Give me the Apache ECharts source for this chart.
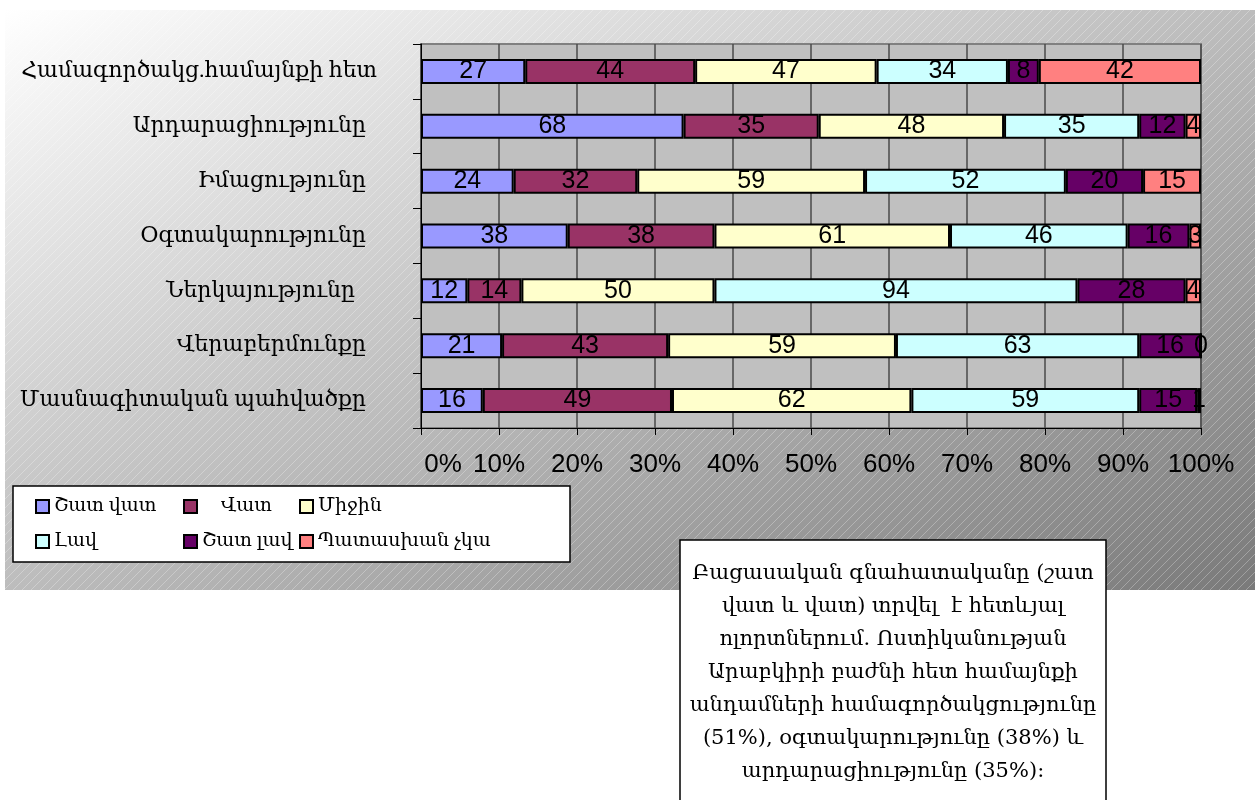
<!DOCTYPE html>
<html>
<head>
<meta charset="utf-8">
<title>Գնահատականներ</title>
<script src="https://cdn.jsdelivr.net/npm/echarts@6/dist/echarts.min.js"></script>
<style>
  html, body { margin: 0; padding: 0; background: #fff; }
  #chart { width: 1255px; height: 800px; }
</style>
</head>
<body>
<div id="chart"></div>
<script>
// categories, top to bottom
const categories = [
  'Համագործակց.համայնքի հետ',
  'Արդարացիությունը  ',
  'Իմացությունը  ',
  'Օգտակարությունը  ',
  'Ներկայությունը    ',
  'Վերաբերմունքը  ',
  'Մասնագիտական պահվածքը  '
];

const seriesNames = ['Շատ վատ', 'Վատ', 'Միջին', 'Լավ', 'Շատ լավ', 'Պատասխան չկա'];

// answer counts per category
const veryBad  = [27, 68, 24, 38, 12, 21, 16];
const bad      = [44, 35, 32, 38, 14, 43, 49];
const average  = [47, 48, 59, 61, 50, 59, 62];
const good     = [34, 35, 52, 46, 94, 63, 59];
const veryGood = [8, 12, 20, 16, 28, 16, 15];
const noAnswer = [42, 4, 15, 3, 4, 0, 1];

const percentTicks = ['0%', '10%', '20%', '30%', '40%', '50%', '60%', '70%', '80%', '90%', '100%'];

const noteLines = [
  'Բացասական գնահատականը (շատ',
  'վատ և վատ) տրվել  է հետևյալ',
  'ոլորտներում. Ոստիկանության',
  'Արաբկիրի բաժնի հետ համայնքի',
  'անդամների համագործակցությունը',
  '(51%), օգտակարությունը (38%) և',
  'արդարացիությունը (35%):'
];

const seriesData = [veryBad, bad, average, good, veryGood, noAnswer];
const colors = ['#9999ff', '#993366', '#ffffcc', '#ccffff', '#660066', '#ff8080'];

const serif = '"Liberation Serif", "DejaVu Serif", serif';
const sans = '"Liberation Sans", Arial, sans-serif';

// row totals for the 100% stack
const totals = categories.map((c, i) => seriesData.reduce((s, arr) => s + arr[i], 0));

// diagonal hatch pattern for the background
const hatch = document.createElement('canvas');
hatch.width = 9;
hatch.height = 9;
const hctx = hatch.getContext('2d');
hctx.strokeStyle = 'rgba(255,255,255,0.28)';
hctx.lineWidth = 1;
hctx.beginPath();
hctx.moveTo(-1, 10);
hctx.lineTo(10, -1);
hctx.stroke();

const series = seriesNames.map((name, k) => ({
  name: name,
  type: 'bar',
  stack: 'total',
  barWidth: 25,
  itemStyle: { color: colors[k], borderColor: '#000', borderWidth: 2 },
  label: {
    show: true,
    position: 'inside',
    color: '#000',
    fontSize: 25,
    fontFamily: sans,
    textBorderWidth: 0,
    formatter: p => p.data.raw
  },
  emphasis: { disabled: true },
  data: seriesData[k].map((v, i) => ({ value: v / totals[i] * 100, raw: v }))
}));

const legendBase = {
  orient: 'vertical',
  top: 497,
  padding: 0,
  itemWidth: 13,
  itemHeight: 13,
  itemGap: 16,
  icon: 'rect',
  selectedMode: false,
  textStyle: { fontSize: 19, fontFamily: serif, color: '#000' }
};

const chart = echarts.init(document.getElementById('chart'));
chart.setOption({
  animation: false,
  graphic: [
    {
      type: 'rect', z: -100,
      shape: { x: 5, y: 10, width: 1250, height: 580 },
      style: {
        fill: new echarts.graphic.LinearGradient(5, 10, 448, 964, [
          { offset: 0, color: '#ffffff' },
          { offset: 1, color: '#7a7a7a' }
        ], true)
      }
    },
    {
      type: 'rect', z: -99,
      shape: { x: 5, y: 10, width: 1250, height: 580 },
      style: { fill: { image: hatch, repeat: 'repeat' } }
    },
    {
      type: 'rect', z: 1,
      shape: { x: 13, y: 486, width: 557, height: 76 },
      style: { fill: '#fff', stroke: '#000', lineWidth: 1.5 }
    },
    {
      type: 'rect', z: 10,
      shape: { x: 680, y: 540, width: 426, height: 280 },
      style: { fill: '#fff', stroke: '#000', lineWidth: 1.5 }
    },
    {
      type: 'text', z: 11,
      x: 893, y: 557,
      style: {
        text: noteLines.join('\n'),
        font: '21px "DejaVu Serif", serif',
        fill: '#000',
        align: 'center',
        verticalAlign: 'top',
        lineHeight: 33
      }
    }
  ],
  grid: {
    left: 421, top: 44, width: 780, height: 384,
    show: true,
    backgroundColor: '#c0c0c0',
    borderColor: '#808080',
    borderWidth: 2
  },
  legend: [
    Object.assign({}, legendBase, { left: 35, data: [seriesNames[0], seriesNames[3]] }),
    Object.assign({}, legendBase, {
      left: 183, data: [seriesNames[1], seriesNames[4]],
      formatter: n => (n === 'Վատ' ? '    ' + n : n)
    }),
    Object.assign({}, legendBase, { left: 299, data: [seriesNames[2], seriesNames[5]] })
  ],
  xAxis: {
    type: 'value',
    min: 0,
    max: 100,
    interval: 10,
    axisLine: { show: true, lineStyle: { color: '#000', width: 1 } },
    axisTick: { show: true, length: 7, lineStyle: { color: '#000' } },
    splitLine: { show: true, lineStyle: { color: '#4a4a4a', width: 1.5 } },
    axisLabel: {
      margin: 24,
      fontSize: 26,
      fontFamily: sans,
      color: '#000',
      formatter: v => (v === 0 ? '{z|' + percentTicks[0] + '}' : percentTicks[Math.round(v / 10)]),
      rich: { z: { fontSize: 26, fontFamily: sans, color: '#000', padding: [0, 0, 0, 44] } }
    }
  },
  yAxis: {
    type: 'category',
    data: categories,
    inverse: true,
    offset: 36,
    axisLine: { show: true, lineStyle: { color: '#000', width: 1 } },
    axisTick: { show: true, length: 8, lineStyle: { color: '#000' } },
    axisLabel: { margin: 8, fontSize: 22, fontFamily: serif, color: '#000' }
  },
  series: series
});
</script>
</body>
</html>
